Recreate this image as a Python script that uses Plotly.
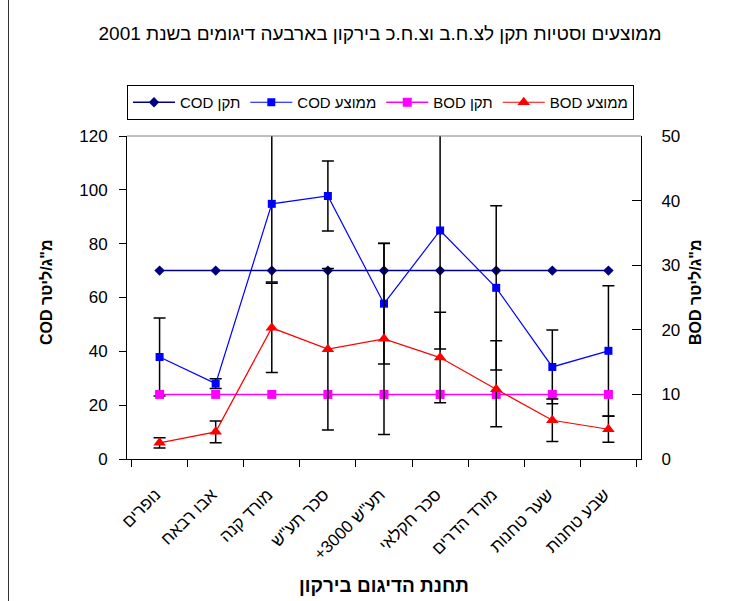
import plotly.graph_objects as go

# ---------------- data ----------------
categories = ["נופרים", "אבו רבאח", "מורד קנה", 'סכר תע"ש', '+3000 תע"ש',
              "סכר חקלאי", "מורד הדרים", "שער טחנות", "שבע טחנות"]

cod_standard = [70, 70, 70, 70, 70, 70, 70, 70, 70]
cod_mean = [37.9, 28.0, 94.8, 97.7, 57.7, 84.9, 63.6, 34.2, 40.2]
cod_sd = [14.5, 1.8, 29.0, 13.0, 22.4, 44.0, 30.5, 13.7, 24.2]

bod_standard = [10, 10, 10, 10, 10, 10, 10, 10, 10]
bod_mean = [2.5, 4.2, 20.3, 17.0, 18.6, 15.7, 10.8, 6.0, 4.6]
bod_err_plus = [0.8, 1.7, 6.9, 12.5, 14.8, 7.0, 7.5, 3.3, 2.0]
bod_err_minus = [0.8, 1.7, 6.9, 12.5, 14.8, 7.0, 5.8, 3.3, 2.0]

names = ["COD תקן", "COD ממוצע", "BOD תקן", "BOD ממוצע"]
title_text = "ממוצעים וסטיות תקן לצ.ח.ב וצ.ח.כ בירקון בארבעה דיגומים בשנת 2001"
x_title = "תחנת הדיגום בירקון"
y_title = 'COD מ"ג/ליטר'
y2_title = 'BOD מ"ג/ליטר'

FONT = "Arial, Liberation Sans, DejaVu Sans, sans-serif"

# ---------------- geometry (pixels) ----------------
W, H = 737, 601
L, R, T, B = 127, 641, 136, 459
pw, ph = R - L, B - T


def px_x(px):
    return (px - L) / pw


def px_y(py):
    return (B - py) / ph


err_style = dict(color="black", thickness=1.5, width=6)

fig = go.Figure()
fig.add_trace(go.Scatter(
    x=categories, y=cod_standard, name=names[0], mode="lines+markers",
    line=dict(color="#000080", width=1.5),
    marker=dict(symbol="diamond", size=8, color="#000080"),
))
fig.add_trace(go.Scatter(
    x=categories, y=cod_mean, name=names[1], mode="lines+markers",
    line=dict(color="#0000FF", width=1.2),
    marker=dict(symbol="square", size=8, color="#0000FF"),
    error_y=dict(type="data", array=cod_sd, visible=True, **err_style),
))
fig.add_trace(go.Scatter(
    x=categories, y=bod_standard, name=names[2], mode="lines+markers", yaxis="y2",
    line=dict(color="#FF00FF", width=1.5),
    marker=dict(symbol="square", size=9, color="#FF00FF"),
))
fig.add_trace(go.Scatter(
    x=categories, y=bod_mean, name=names[3], mode="lines+markers", yaxis="y2",
    line=dict(color="#FF0000", width=1.2),
    marker=dict(symbol="triangle-up", size=11, color="#FF0000"),
    error_y=dict(type="data", array=bod_err_plus, arrayminus=bod_err_minus,
                 symmetric=False, visible=True, **err_style),
))

axis_common = dict(showgrid=False, zeroline=False, showline=True, linecolor="black",
                   linewidth=1, tickcolor="black")
tick_font = dict(family=FONT, size=17, color="black")

fig.update_layout(
    width=W, height=601, autosize=False,
    margin=dict(l=L, r=W - R, t=T, b=H - B, pad=0, autoexpand=False),
    paper_bgcolor="white", plot_bgcolor="white",
    font=dict(family=FONT, color="black"),
    title=dict(text=title_text, x=380 / W, y=1 - 33 / H, xref="container", yref="container",
               xanchor="center", yanchor="middle", font=dict(family=FONT, size=19, color="black")),
    showlegend=True,
    legend=dict(orientation="h", xref="container", yref="container",
                x=127 / W, y=1 - 85 / H, xanchor="left", yanchor="top",
                bordercolor="black", borderwidth=1, bgcolor="white",
                font=dict(family=FONT, size=15, color="black"),
                itemwidth=42),
    xaxis=dict(**axis_common, type="category", tickson="boundaries", ticks="outside", ticklen=7,
               tickangle=-45, ticklabelstandoff=18, ticklabelshift=-4,
               tickfont=dict(family=FONT, size=17, color="black")),
    yaxis=dict(**axis_common, range=[0, 120], dtick=20, tickfont=tick_font,
               ticks="outside", ticklen=7, ticklabelstandoff=8),
    yaxis2=dict(**axis_common, overlaying="y", side="right", range=[0, 50], dtick=10,
                tickfont=tick_font, ticks="inside", ticklen=9, ticklabelstandoff=16),
    annotations=[
        dict(text="<b>" + y_title + "</b>", xref="paper", yref="paper", x=px_x(46), y=px_y(292),
             textangle=-90, showarrow=False, xanchor="center", yanchor="middle",
             font=dict(family=FONT, size=16, color="black")),
        dict(text="<b>" + y2_title + "</b>", xref="paper", yref="paper", x=px_x(695), y=px_y(292),
             textangle=-90, showarrow=False, xanchor="center", yanchor="middle",
             font=dict(family=FONT, size=16, color="black")),
        dict(text="<b>" + x_title + "</b>", xref="paper", yref="paper", x=px_x(384), y=px_y(585),
             showarrow=False, xanchor="center", yanchor="middle",
             font=dict(family=FONT, size=19, color="black")),
    ],
    shapes=[
        dict(type="line", xref="paper", yref="paper", x0=0, x1=1, y0=1, y1=1,
             line=dict(color="#808080", width=1)),
        dict(type="line", xref="paper", yref="paper", x0=px_x(8.5), x1=px_x(8.5),
             y0=px_y(-5), y1=px_y(610), line=dict(color="#333333", width=1)),
    ],
)

fig.write_html("out.html")
